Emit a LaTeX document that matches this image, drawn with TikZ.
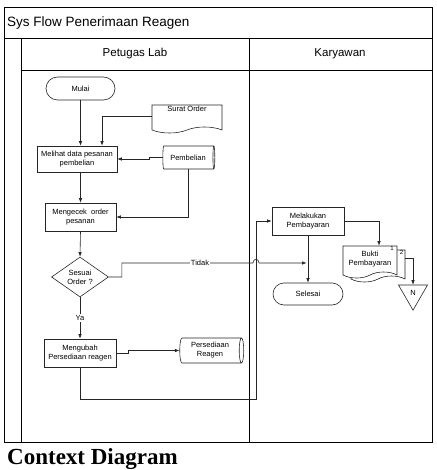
\documentclass[tikz,border=0pt]{standalone}
\usepackage{fontspec}
\setmainfont{Liberation Sans}
\newfontfamily\captionfont{Liberation Serif}
\usetikzlibrary{shapes.geometric}
\usetikzlibrary{shapes.symbols}
\usetikzlibrary{shapes.misc}
\usetikzlibrary{arrows.meta}

\begin{document}
\begin{tikzpicture}
			[
				x = 1pt, y = -1pt,
				frame/.style = {draw = black, line width = 0.8pt},
				small/.style = {font = \fontsize{7.5}{9}\selectfont, align = center, inner sep = 1pt},
				proc/.style = {small, rectangle, draw = black!85, line width = 0.6pt, fill = white},
				terminal/.style = {small, rounded rectangle, draw = black!85, line width = 0.6pt, fill = white},
				doc/.style = {small, tape, tape bend top = none, tape bend height = 6pt, draw = black!85, line width = 0.6pt, fill = white},
				disk/.style = {small, cylinder, shape aspect = 0.25, draw = black!85, line width = 0.6pt, fill = white},
				decision/.style = {small, diamond, draw = black!85, line width = 0.6pt, fill = white, inner sep = 0pt},
				offpage/.style = {small, regular polygon, regular polygon sides = 3, shape border rotate = 180, draw = black!85, line width = 0.6pt, inner sep = 0pt},
				flow/.style = {draw = black!85, line width = 0.6pt, -{Latex[length = 4.5pt, width = 3.5pt]}},
				lbl/.style = {small, fill = white},
			]
			\useasboundingbox (0,0) rectangle (436,470);
			\draw[frame] (4,7) rectangle (432,442);
			\draw[frame] (4,38) -- (432,38);
			\draw[frame] (21,38) -- (21,442);
			\draw[frame] (21,70) -- (432,70);
			\draw[frame] (249,38) -- (249,442);
			\node (title) [anchor = west, font = \fontsize{13.5}{16}\selectfont, inner sep = 0pt] at (7,23) {Sys Flow Penerimaan Reagen};
			\node (petugas) [font = \fontsize{11.5}{14}\selectfont] at (135,54) {Petugas Lab};
			\node (karyawan) [font = \fontsize{11.5}{14}\selectfont] at (340,54) {Karyawan};

			\node (mulai) [terminal, minimum width = 71pt, minimum height = 23pt] at (80.5,88.5) {Mulai};
			\node (surat) [doc, minimum width = 70pt, minimum height = 28pt] at (187,116) {Surat Order\\[5pt]};
			\node (melihat) [proc, minimum width = 80pt, minimum height = 26pt] at (77,159) {Melihat data pesanan\\pembelian};
			\node (pembelian) [disk, minimum width = 23pt, minimum height = 52pt] at (188,157.5) {Pembelian};
			\node (mengecek) [proc, minimum width = 71pt, minimum height = 28pt] at (80.5,217) {Mengecek\ \ order\\pesanan};
			\node (sesuai) [decision, minimum width = 57pt, minimum height = 34pt] at (80,277) {Sesuai\\Order ?};
			\node (mengubah) [proc, minimum width = 72pt, minimum height = 28pt] at (80,353) {Mengubah\\Persediaan reagen};
			\node (persediaan) [disk, minimum width = 25pt, minimum height = 64pt] at (210,350.5) {Persediaan\\Reagen};

			\node (melakukan) [proc, minimum width = 72pt, minimum height = 28pt] at (308,221) {Melakukan\\Pembayaran};
			\node (selesai) [terminal, minimum width = 72pt, minimum height = 22pt] at (308,294) {Selesai};
			\node (bukti2) [doc, minimum width = 54pt, minimum height = 32pt] at (378,263) {};
			\node (bukti) [doc, minimum width = 54pt, minimum height = 32pt] at (370,259) {Bukti\\Pembayaran};
			\node (no1) [font = \fontsize{6}{7}\selectfont, inner sep = 0pt] at (392,248) {1};
			\node (no2) [font = \fontsize{6}{7}\selectfont, inner sep = 0pt] at (401.5,252) {2};
			\node (N) [offpage, minimum size = 33.5pt] at (413,293.4) {N};

			\coordinate (hopa) at (253,263);
			\coordinate (hopb) at (259,263);
			\coordinate (tjoin) at (306.5,263);
			\coordinate (ret) at (256,399);

			\draw[flow] (mulai.south) -- (mulai.south |- melihat.north);
			\draw[flow] (surat.west) -| ([xshift = 25pt]melihat.north);
			\draw[flow] (pembelian.west) -- ++(-13,0) |- (melihat.east);
			\draw[flow] (mengecek.north |- melihat.south) -- (mengecek.north);
			\draw[flow] (pembelian.south) |- (mengecek.east);
			\draw[flow] (mengecek.south) -- (sesuai.north);
			\draw[flow] (sesuai.east) -- ++(13,0) |- (hopa) .. controls +(0,-5) and +(0,-5) .. (hopb) -- (tjoin);
			\node (tidak) [lbl] at (200,263) {Tidak};
			\draw[flow] (sesuai.south) -- node (ya) [lbl] {Ya} (mengubah.north);
			\draw[flow] (mengubah.east) -- ++(12,0) |- (persediaan.west);
			\draw[flow] (mengubah.south) |- (ret) |- (melakukan.west);
			\draw[flow] (melakukan.south) -- (selesai.north);
			\draw[flow] (melakukan.east) -| ([xshift = 9pt]bukti.north);
			\draw[flow] ([yshift = 5pt]bukti2.east) -| (N);

			\node (caption) [anchor = base west, font = \captionfont\bfseries\fontsize{23}{26}\selectfont, inner sep = 0pt] at (7,464) {Context Diagram};
		\end{tikzpicture}
\end{document}
